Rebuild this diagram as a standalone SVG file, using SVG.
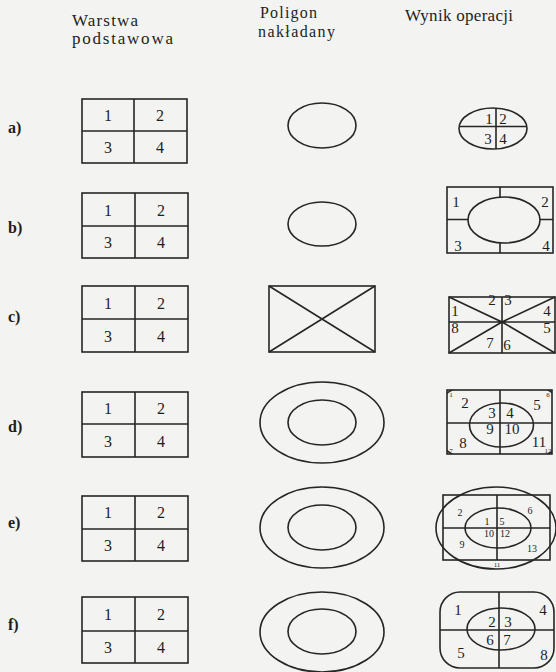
<svg xmlns="http://www.w3.org/2000/svg" width="556" height="672" viewBox="0 0 556 672">
<defs>
<style>
.s{fill:none;stroke:#262626;stroke-width:1.6}
.t{font-family:"Liberation Serif","Times New Roman",serif;fill:#1e1e1e}
.h{font-size:17px}
.h2{font-size:16px}
.n{font-size:16px;text-anchor:middle}
.r{font-size:15px;text-anchor:middle}
.sm{font-size:10px;text-anchor:middle}
.xs{font-size:7px;text-anchor:middle}
.l{font-size:16px;font-weight:bold}
</style>
<clipPath id="cd"><rect x="447" y="390" width="105" height="64"/></clipPath>
</defs>
<rect width="556" height="672" fill="#f3f3f1"/>

<g id="headers" class="t h">
<text x="72" y="26" textLength="66" lengthAdjust="spacing">Warstwa</text>
<text x="72" y="44" textLength="101" lengthAdjust="spacing">podstawowa</text>
<text class="h2" x="260" y="18" textLength="57" lengthAdjust="spacing">Poligon</text>
<text class="h2" x="258" y="36.5" textLength="77" lengthAdjust="spacing">nakładany</text>
<text x="405" y="21" textLength="108" lengthAdjust="spacing">Wynik operacji</text>
</g>

<g id="labels" class="t l">
<text x="8" y="133">a)</text>
<text x="8" y="233">b)</text>
<text x="8" y="322">c)</text>
<text x="8" y="432">d)</text>
<text x="8" y="528">e)</text>
<text x="8" y="630">f)</text>
</g>

<g id="base-a">
<rect class="s" x="82" y="99" width="105" height="64"/>
<path class="s" d="M82 131H187M134 99V163"/>
<g class="t n"><text x="108" y="121">1</text><text x="160" y="121">2</text><text x="108" y="153">3</text><text x="160" y="153">4</text></g>
</g>
<g id="base-b">
<rect class="s" x="82" y="193" width="106" height="65"/>
<path class="s" d="M82 226H188M135 193V258"/>
<g class="t n"><text x="108" y="216">1</text><text x="161" y="216">2</text><text x="108" y="248">3</text><text x="161" y="248">4</text></g>
</g>
<g id="base-c">
<rect class="s" x="82" y="286" width="106" height="66"/>
<path class="s" d="M82 319H188M135 286V352"/>
<g class="t n"><text x="108" y="309">1</text><text x="161" y="309">2</text><text x="108" y="342">3</text><text x="161" y="342">4</text></g>
</g>
<g id="base-d">
<rect class="s" x="82" y="392" width="106" height="65"/>
<path class="s" d="M82 424H188M135 392V457"/>
<g class="t n"><text x="108" y="414">1</text><text x="161" y="414">2</text><text x="108" y="447">3</text><text x="161" y="447">4</text></g>
</g>
<g id="base-e">
<rect class="s" x="82" y="496" width="106" height="65"/>
<path class="s" d="M82 529H188M135 496V561"/>
<g class="t n"><text x="108" y="518">1</text><text x="161" y="518">2</text><text x="108" y="551">3</text><text x="161" y="551">4</text></g>
</g>
<g id="base-f">
<rect class="s" x="82" y="597" width="106" height="66"/>
<path class="s" d="M82 631H188M135 597V663"/>
<g class="t n"><text x="108" y="620">1</text><text x="161" y="620">2</text><text x="108" y="653">3</text><text x="161" y="653">4</text></g>
</g>

<g id="poly-a"><ellipse class="s" cx="322" cy="125.5" rx="34" ry="22.5"/></g>
<g id="poly-b"><ellipse class="s" cx="322" cy="224" rx="34" ry="22"/></g>
<g id="poly-c"><rect class="s" x="269" y="286" width="106" height="66"/><path class="s" d="M269 286L375 352M375 286L269 352"/></g>
<g id="poly-d"><ellipse class="s" cx="322" cy="422.5" rx="62" ry="40.5"/><ellipse class="s" cx="322" cy="422.5" rx="34" ry="22.5"/></g>
<g id="poly-e"><ellipse class="s" cx="322" cy="527.5" rx="62" ry="40.5"/><ellipse class="s" cx="322" cy="527.5" rx="34" ry="22.5"/></g>
<g id="poly-f"><ellipse class="s" cx="322" cy="632" rx="62" ry="40"/><ellipse class="s" cx="322" cy="631.5" rx="34" ry="22.5"/></g>

<g id="result-a">
<ellipse class="s" cx="493" cy="128.5" rx="34" ry="20.5"/>
<path class="s" d="M459 126.5H527M496 108.5V149"/>
<g class="t r"><text x="489" y="124">1</text><text x="503" y="124">2</text><text x="488" y="144">3</text><text x="503" y="144">4</text></g>
</g>

<g id="result-b">
<rect class="s" x="447" y="187" width="106" height="66"/>
<ellipse class="s" cx="504" cy="220" rx="36" ry="23"/>
<path class="s" d="M447 219.5H468M540 219.5H553M500 187V197.5M500 242.5V253"/>
<g class="t r"><text x="456" y="207">1</text><text x="545" y="207">2</text><text x="458" y="251">3</text><text x="546" y="251">4</text></g>
</g>

<g id="result-c">
<rect class="s" x="449" y="297" width="106" height="56"/>
<path class="s" d="M449 322H555M502 297V353M449 297L502 322L555 297M449 353L502 322L555 353"/>
<g class="t r"><text x="455" y="316">1</text><text x="492" y="305">2</text><text x="508" y="305">3</text><text x="547" y="316">4</text><text x="455" y="333">8</text><text x="490" y="348">7</text><text x="507" y="350">6</text><text x="547" y="333">5</text></g>
</g>

<g id="result-d">
<rect class="s" x="447" y="390" width="105" height="64"/>
<path class="s" d="M447 423H552M500 390V454"/>
<ellipse class="s" cx="501.5" cy="425" rx="32" ry="22"/>
<ellipse class="s" cx="500" cy="422" rx="70" ry="44" clip-path="url(#cd)"/>
<g class="t r"><text x="465" y="408">2</text><text x="492" y="418">3</text><text x="510" y="418">4</text><text x="537" y="410">5</text><text x="490" y="434">9</text><text x="512" y="434">10</text><text x="463" y="448">8</text><text x="539" y="447">11</text></g>
<g class="t xs"><text x="451" y="397">1</text><text x="548" y="397">6</text><text x="451" y="453">7</text><text x="548" y="453">12</text></g>
</g>

<g id="result-e">
<rect class="s" x="443" y="495" width="107" height="65"/>
<path class="s" d="M443 528H550M497 495V560"/>
<ellipse class="s" cx="496" cy="528" rx="60" ry="41"/>
<ellipse class="s" cx="498" cy="528" rx="33" ry="20"/>
<g class="t sm"><text x="460" y="516">2</text><text x="530" y="514">6</text><text x="487" y="525">1</text><text x="502" y="525">5</text><text x="489" y="537">10</text><text x="505" y="537">12</text><text x="462" y="548">9</text><text x="532" y="552">13</text></g>
<g class="t xs"><text x="497" y="567">11</text></g>
</g>

<g id="result-f">
<rect class="s" x="440" y="592" width="114" height="76" rx="20" ry="20"/>
<path class="s" d="M440 630H554M499 592V668"/>
<ellipse class="s" cx="501" cy="629" rx="34" ry="21"/>
<g class="t r"><text x="458" y="615">1</text><text x="543" y="615">4</text><text x="492" y="627">2</text><text x="508" y="627">3</text><text x="490" y="645">6</text><text x="507" y="645">7</text><text x="461" y="658">5</text><text x="544" y="660">8</text></g>
</g>
</svg>
